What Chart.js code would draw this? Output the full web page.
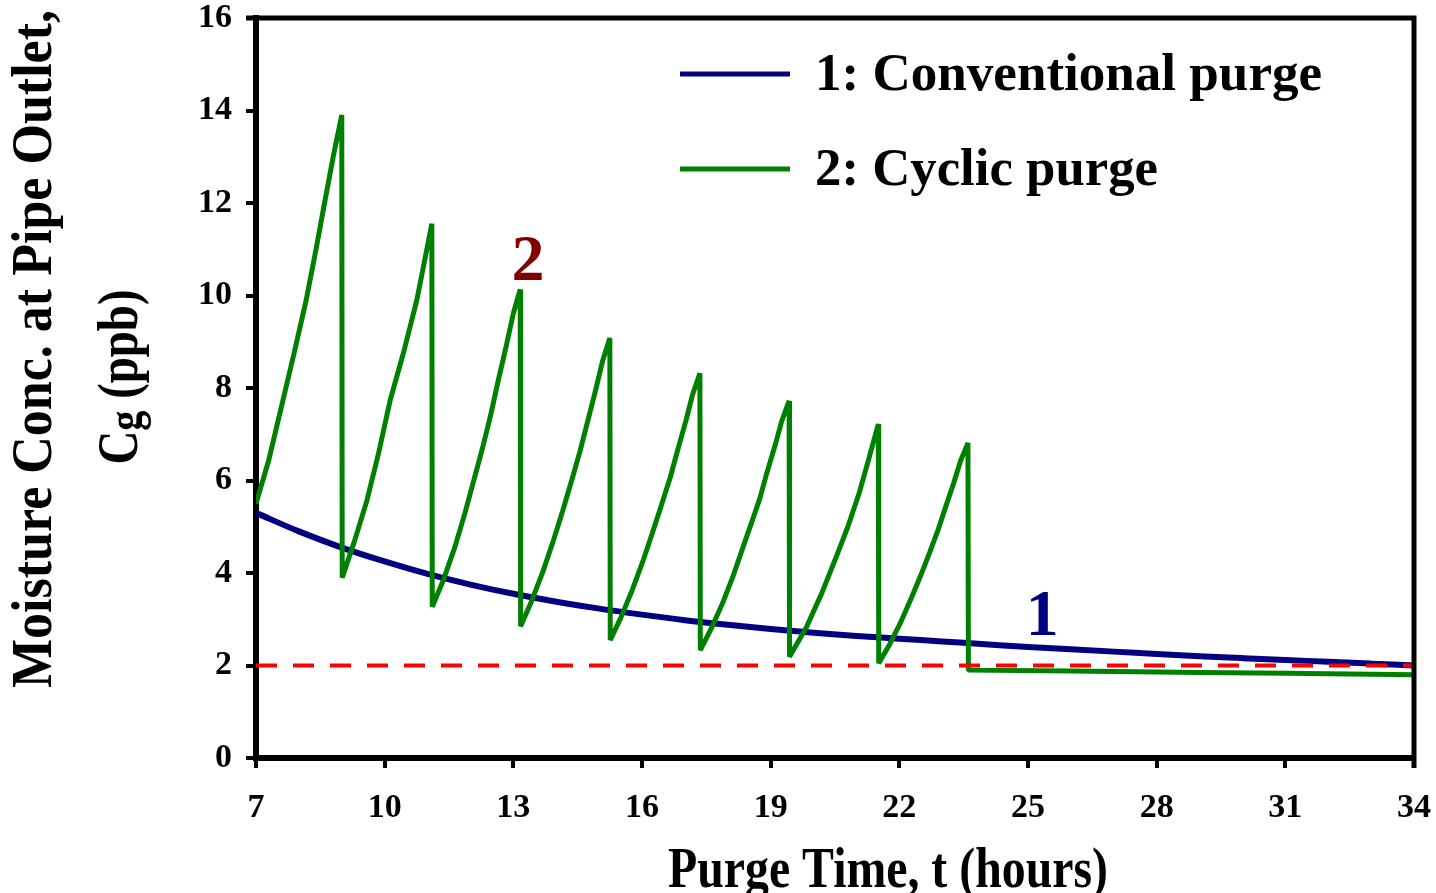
<!DOCTYPE html>
<html>
<head>
<meta charset="utf-8">
<title>Moisture concentration at pipe outlet</title>
<script src="https://cdn.jsdelivr.net/npm/chart.js@4.4.1/dist/chart.umd.min.js"></script>
<style>
  html, body { margin: 0; padding: 0; background: #fff; }
  #wrap { width: 1436px; height: 893px; }
</style>
</head>
<body>
<div id="wrap"><canvas id="myChart" width="1436" height="893"></canvas></div>
<script>
// values (time in hours, concentration in ppb)
const conventionalT = [7, 8, 9, 10, 11, 12, 13, 14, 15, 16, 17, 18, 19, 20, 21, 22, 23, 24, 25, 26, 27, 28, 29, 30, 31, 32, 33, 34];
const conventionalC = [5.3, 4.9, 4.55, 4.25, 3.98, 3.75, 3.55, 3.38, 3.23, 3.1, 2.98, 2.88, 2.79, 2.71, 2.64, 2.58, 2.52, 2.46, 2.4, 2.35, 2.3, 2.25, 2.2, 2.16, 2.12, 2.08, 2.04, 2.0];

const cyclicT = [
  7.0, 7.3, 7.63, 7.9, 8.17, 8.4, 8.61, 8.8, 9.0,
  9.01, 9.3, 9.59, 9.86, 10.13, 10.45, 10.75, 10.92, 11.1,
  11.11, 11.37, 11.64, 11.87, 12.08, 12.29, 12.48, 12.65, 12.83, 13.0, 13.16,
  13.17, 13.42, 13.69, 13.94, 14.15, 14.36, 14.56, 14.73, 14.92, 15.08, 15.25,
  15.26, 15.51, 15.78, 16.03, 16.24, 16.45, 16.66, 16.83, 17.02, 17.18, 17.35,
  17.36, 17.61, 17.88, 18.13, 18.33, 18.54, 18.75, 18.91, 19.1, 19.26, 19.43,
  19.44, 19.84, 20.19, 20.5, 20.8, 21.06, 21.28, 21.51,
  21.52, 21.77, 22.04, 22.29, 22.5, 22.71, 22.91, 23.08, 23.27, 23.43, 23.6,
  23.61, 26, 29, 31, 34];
const cyclicC = [
  5.5, 6.45, 7.74, 8.8, 9.9, 11.0, 12.06, 13.0, 13.9,
  3.9, 4.7, 5.58, 6.6, 7.74, 8.8, 9.9, 10.7, 11.55,
  3.27, 3.85, 4.57, 5.29, 6.01, 6.73, 7.45, 8.17, 8.89, 9.61, 10.13,
  2.85, 3.38, 4.03, 4.72, 5.34, 6.0, 6.65, 7.27, 7.96, 8.58, 9.08,
  2.55, 3.04, 3.65, 4.28, 4.86, 5.46, 6.07, 6.65, 7.28, 7.86, 8.32,
  2.33, 2.79, 3.35, 3.95, 4.49, 5.05, 5.62, 6.16, 6.75, 7.29, 7.72,
  2.19, 2.84, 3.56, 4.28, 5.0, 5.72, 6.44, 7.22,
  2.05, 2.45, 2.95, 3.48, 3.95, 4.45, 4.95, 5.43, 5.95, 6.43, 6.81,
  1.9, 1.88, 1.85, 1.83, 1.8];

const limitT = [7, 34];
const limitC = [2, 2];

const xTicks = [7, 10, 13, 16, 19, 22, 25, 28, 31, 34];
const yTicks = [0, 2, 4, 6, 8, 10, 12, 14, 16];

const seriesNames = ['1: Conventional purge', '2: Cyclic purge'];
const curveTags = [
  { text: '2', t: 13.34, c: 10.34, color: '#800000' },
  { text: '1', t: 25.33, c: 2.66, color: '#000080' },
];

const toPoints = (xs, ys) => xs.map((x, i) => ({ x: x, y: ys[i] }));

const SERIF = "'Liberation Serif', 'DejaVu Serif', serif";

// draw text squeezed/stretched to a given width
function fitText(ctx, str, x, y, size, width, align) {
  ctx.save();
  ctx.font = 'bold ' + size + 'px ' + SERIF;
  const w = ctx.measureText(str).width;
  const s = width / w;
  ctx.translate(x, y);
  ctx.scale(s, 1);
  ctx.textAlign = align || 'left';
  ctx.fillText(str, 0, 0);
  ctx.restore();
}

const decorations = {
  id: 'decorations',
  afterDatasetsDraw(chart) {
    const ctx = chart.ctx;
    const area = chart.chartArea;
    const xs = chart.scales.x;
    const ys = chart.scales.y;

    // box round the plot (top line runs out as the 16 tick)
    ctx.save();
    ctx.strokeStyle = '#000';
    ctx.lineWidth = 5;
    ctx.beginPath();
    ctx.moveTo(area.left - 10, area.top);
    ctx.lineTo(area.right, area.top);
    ctx.lineTo(area.right, area.bottom + 10);
    ctx.stroke();
    ctx.restore();

    // curve numbers
    ctx.save();
    ctx.textBaseline = 'alphabetic';
    curveTags.forEach((tag) => {
      ctx.fillStyle = tag.color;
      ctx.font = 'bold 66px ' + SERIF;
      ctx.textAlign = 'center';
      ctx.fillText(tag.text, xs.getPixelForValue(tag.t), ys.getPixelForValue(tag.c));
    });
    ctx.restore();

    // legend
    const legendColors = ['#000080', '#008000'];
    const legendY = [74, 169];
    const legendW = [507, 343];
    ctx.save();
    seriesNames.forEach((name, i) => {
      ctx.strokeStyle = legendColors[i];
      ctx.lineWidth = 5;
      ctx.beginPath();
      ctx.moveTo(680, legendY[i]);
      ctx.lineTo(790, legendY[i]);
      ctx.stroke();
      ctx.fillStyle = '#000';
      fitText(ctx, name, 815, legendY[i] + 16, 52, legendW[i]);
    });
    ctx.restore();

    // axis titles
    ctx.save();
    ctx.fillStyle = '#000';
    fitText(ctx, 'Purge Time, t (hours)', 888, 887, 56, 440, 'center');

    ctx.translate(51, 349);
    ctx.rotate(-Math.PI / 2);
    fitText(ctx, 'Moisture Conc. at Pipe Outlet,', 0, 0, 56, 678, 'center');
    ctx.restore();

    // second line with subscript g
    ctx.save();
    ctx.fillStyle = '#000';
    ctx.translate(137, 377);
    ctx.rotate(-Math.PI / 2);
    const big = 'bold 56px ' + SERIF;
    const small = 'bold 48px ' + SERIF;
    ctx.font = big;
    const wC = ctx.measureText('C').width;
    const wRest = ctx.measureText(' (ppb)').width;
    ctx.font = small;
    const wg = ctx.measureText('g').width;
    const total = wC + wg + wRest;
    const sq = 175 / total;
    ctx.scale(sq, 1);
    let px = -total / 2;
    ctx.textAlign = 'left';
    ctx.font = big;
    ctx.fillText('C', px, 0);
    px += wC;
    ctx.font = small;
    ctx.fillText('g', px, 4);
    px += wg;
    ctx.font = big;
    ctx.fillText(' (ppb)', px, 0);
    ctx.restore();
  },
};

const chart1 = document.getElementById('myChart').getContext('2d');

const myChart = new Chart(chart1, {
  type: 'line',
  data: {
    datasets: [
      {
        label: 'limit',
        data: toPoints(limitT, limitC),
        borderColor: '#ff0000',
        borderWidth: 4,
        borderDash: [21, 16],
        pointRadius: 0,
        order: 0,
      },
      {
        label: seriesNames[1],
        data: toPoints(cyclicT, cyclicC),
        borderColor: '#008000',
        borderWidth: 5,
        borderJoinStyle: 'bevel',
        tension: 0,
        pointRadius: 0,
        order: 1,
      },
      {
        label: seriesNames[0],
        data: toPoints(conventionalT, conventionalC),
        borderColor: '#000080',
        borderWidth: 6,
        cubicInterpolationMode: 'monotone',
        pointRadius: 0,
        order: 2,
      },
    ],
  },
  options: {
    responsive: false,
    animation: false,
    devicePixelRatio: 1,
    layout: {
      padding: { top: 18, right: 22, left: 0, bottom: 0 },
    },
    scales: {
      x: {
        type: 'linear',
        min: 7,
        max: 34,
        afterBuildTicks: (scale) => {
          scale.ticks = xTicks.map((v) => ({ value: v }));
        },
        afterFit: (scale) => {
          scale.height = 135;
          scale.paddingLeft = 0;
          scale.paddingRight = 0;
        },
        border: { display: true, color: '#000', width: 6 },
        grid: {
          drawOnChartArea: false,
          drawTicks: true,
          tickLength: 10,
          color: '#000',
          lineWidth: 4,
        },
        ticks: {
          color: '#000',
          padding: 20,
          maxRotation: 0,
          autoSkip: false,
          font: { family: SERIF, size: 34, weight: 'bold' },
        },
      },
      y: {
        min: 0,
        max: 16,
        afterBuildTicks: (scale) => {
          scale.ticks = yTicks.map((v) => ({ value: v }));
        },
        afterFit: (scale) => {
          scale.width = 256;
          scale.paddingTop = 0;
          scale.paddingBottom = 0;
        },
        border: { display: true, color: '#000', width: 6 },
        grid: {
          drawOnChartArea: false,
          drawTicks: true,
          tickLength: 10,
          color: '#000',
          lineWidth: 4,
        },
        ticks: {
          color: '#000',
          padding: 14,
          font: { family: SERIF, size: 34, weight: 'bold' },
        },
      },
    },
    plugins: {
      legend: { display: false },
      tooltip: { enabled: false },
    },
  },
  plugins: [decorations],
});
</script>
</body>
</html>
